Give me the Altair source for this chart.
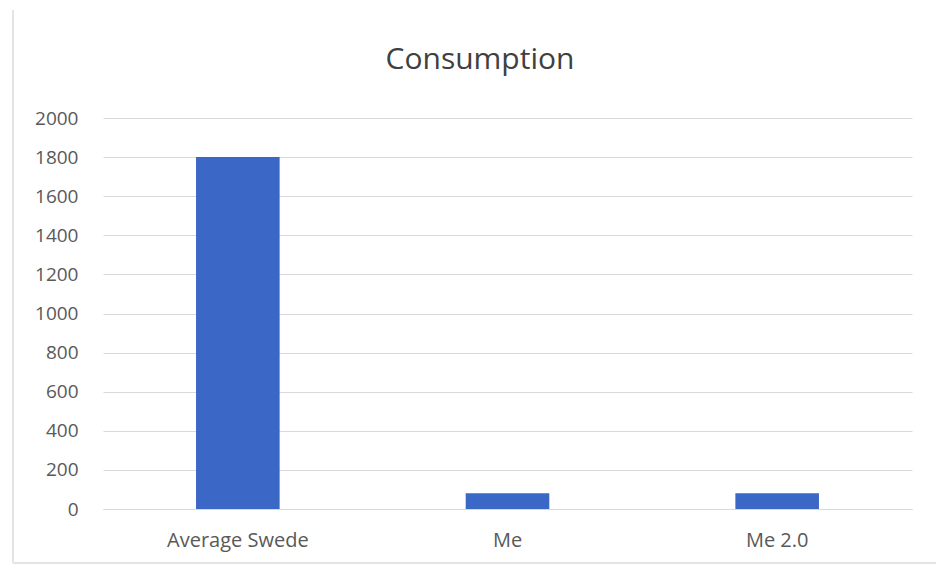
import altair as alt
import pandas as pd

# Consumption per person, three cases
categories = ["Average Swede", "Me", "Me 2.0"]
consumption = [1800, 80, 80]
y_ticks = [0, 200, 400, 600, 800, 1000, 1200, 1400, 1600, 1800, 2000]
chart_title = "Consumption"

df = pd.DataFrame({"who": categories, "value": consumption})

FONT = "Open Sans"
LABEL_COLOR = "#595959"
GRID_COLOR = "#d9d9d9"
BAR_COLOR = "#3b67c6"

bars = alt.Chart(df).mark_bar(color=BAR_COLOR).encode(
    x=alt.X(
        "who:N",
        sort=categories,
        title=None,
        scale=alt.Scale(paddingInner=0.69, paddingOuter=0.345),
        axis=alt.Axis(
            labelAngle=0,
            labelFont=FONT,
            labelFontSize=20,
            labelColor=LABEL_COLOR,
            labelPadding=21,
            ticks=False,
            domain=True,
            domainColor=GRID_COLOR,
            grid=False,
        ),
    ),
    y=alt.Y(
        "value:Q",
        title=None,
        scale=alt.Scale(domain=[0, 2000], nice=False),
        axis=alt.Axis(
            values=y_ticks,
            format="d",
            labelFont=FONT,
            labelFontSize=19,
            labelColor=LABEL_COLOR,
            labelPadding=25,
            ticks=False,
            domain=False,
            grid=True,
            gridColor=GRID_COLOR,
            gridWidth=1,
        ),
    ),
)

single = pd.DataFrame({"label": [chart_title]})

# chart heading, centred a little left of the plot middle
heading = alt.Chart(single).mark_text(
    font=FONT, fontSize=30, color="#404040", baseline="middle", align="center"
).encode(text="label:N", x=alt.value(377), y=alt.value(-58))

# faint outer frame of the chart box (left and bottom edges)
left_edge = alt.Chart(single).mark_rule(color="#e4e4e4", strokeWidth=2).encode(
    x=alt.value(-90), y=alt.value(-108), y2=alt.value(445)
)
bottom_edge = alt.Chart(single).mark_rule(color="#e4e4e4", strokeWidth=2).encode(
    x=alt.value(-90), x2=alt.value(833), y=alt.value(445)
)

chart = (
    alt.layer(bars, heading, left_edge, bottom_edge)
    .properties(
        width=809,
        height=391,
        autosize=alt.AutoSizeParams(type="none"),
        padding={"left": 103, "top": 118, "right": 24, "bottom": 58},
        view=alt.ViewBackground(stroke="transparent", strokeWidth=0),
    )
    .configure_view(stroke="transparent", strokeWidth=0)
    .configure(background="white")
)

chart.save("out.html", embed_options={"renderer": "svg", "actions": False})
